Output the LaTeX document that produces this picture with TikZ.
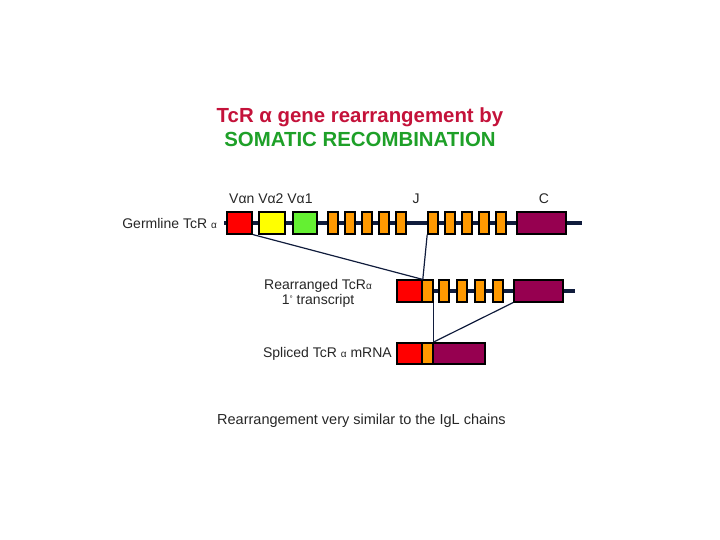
\documentclass[tikz,border=0pt]{standalone}
\usepackage{fontspec}
\setmainfont{Liberation Sans}
\definecolor{titlered}{RGB}{196,18,58}
\definecolor{titlegreen}{RGB}{30,160,40}
\definecolor{exred}{RGB}{255,0,0}
\definecolor{exyellow}{RGB}{255,255,0}
\definecolor{exgreen}{RGB}{100,240,50}
\definecolor{exorange}{RGB}{255,153,0}
\definecolor{exmag}{RGB}{150,0,80}
\definecolor{navy}{RGB}{16,28,60}
\begin{document}
\begin{tikzpicture}[x=1pt,y=-1pt,
  exon/.style={draw=black,line width=1.6pt,inner sep=0pt,minimum height=21.5pt},
  backbone/.style={navy,line width=4pt},
  conn/.style={navy,line width=1.2pt},
  lab/.style={font=\fontsize{14}{14.5}\selectfont,inner sep=0pt,text=black!85},
  ttl/.style={font=\fontsize{20.4}{22}\selectfont\bfseries,inner sep=0pt}]
\useasboundingbox (0,0) rectangle (720,540);
% title
\node[ttl,text=titlered] (t1) at (360,117) {TcR α gene rearrangement by};
\node[ttl,text=titlegreen] (t2) at (360,139) {SOMATIC RECOMBINATION};
% germline
\coordinate (gl) at (224,223);
\coordinate (gr) at (582,223);
\draw[backbone] (gl) -- (gr);
\node[exon,fill=exred,minimum width=25pt] (vn) at (239.5,223) {};
\node[exon,fill=exyellow,minimum width=26pt] (v2) at (272,223) {};
\node[exon,fill=exgreen,minimum width=24pt] (v1) at (305,223) {};
\foreach \i/\x in {1/333,2/350,3/367,4/384,5/401}
  \node[exon,fill=exorange,minimum width=10pt] (ja\i) at (\x,223) {};
\foreach \i/\x in {1/433,2/450,3/467,4/484,5/501}
  \node[exon,fill=exorange,minimum width=10pt] (jb\i) at (\x,223) {};
\node[exon,fill=exmag,minimum width=49pt] (gc) at (541.5,223) {};
% rearranged
\coordinate (rl) at (397,291);
\coordinate (rr) at (575,291);
\draw[backbone] (rl) -- (rr);
\node[exon,fill=exred,minimum width=25pt] (rv) at (409.5,291) {};
\node[exon,fill=exorange,minimum width=11pt] (rj) at (427.5,291) {};
\foreach \i/\x in {1/444,2/462,3/480,4/498}
  \node[exon,fill=exorange,minimum width=10pt] (rj\i) at (\x,291) {};
\node[exon,fill=exmag,minimum width=49pt] (rc) at (538.5,291) {};
% spliced
\node[exon,fill=exred,minimum width=25pt] (sv) at (409.5,353.5) {};
\node[exon,fill=exorange,minimum width=11pt] (sj) at (427.5,353.5) {};
\node[exon,fill=exmag,minimum width=52pt] (sc) at (459,353.5) {};
% connectors
\draw[conn] (vn.south east) -- (rv.north east);
\draw[conn] (jb1.south west) -- (rv.north east);
\draw[conn] (rj.south east) -- (sj.north east);
\draw[conn] (rc.south west) -- (sj.north east);
% labels
\node[lab,anchor=west] (vlab) at (229,199) {Vαn Vα2 Vα1};
\node[lab] (jlab) at (416,199) {J};
\node[lab] (clab) at (544,199) {C};
\node[lab,anchor=east] (glab) at (217,223) {Germline TcR {\fontsize{10}{10}\selectfont α}};
\node[lab,align=center] (rlab) at (318,293.5) {Rearranged TcR{\fontsize{10}{10}\selectfont α}\\1{\fontsize{8}{8}\selectfont\raisebox{2.5pt}{°}} transcript};
\node[lab,anchor=east] (slab) at (392,354) {Spliced TcR {\fontsize{10}{10}\selectfont α} mRNA};
\node[lab,anchor=west,font=\fontsize{14.5}{16}\selectfont] (foot) at (217,421) {Rearrangement very similar to the IgL chains};
\end{tikzpicture}
\end{document}
